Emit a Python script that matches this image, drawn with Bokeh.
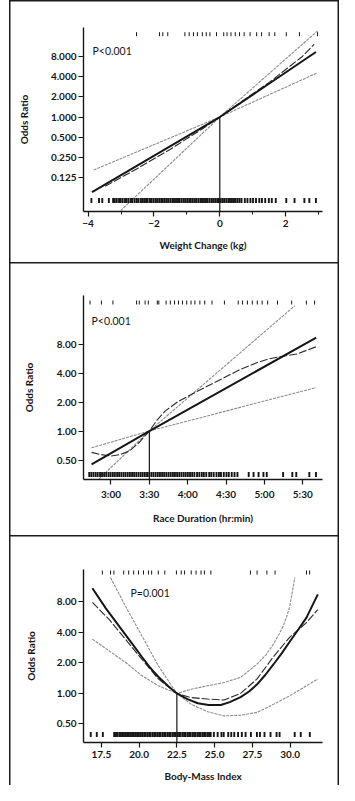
from math import pi, log2
from bokeh.plotting import figure
from bokeh.layouts import column
from bokeh.models import FixedTicker, Label, Range1d
from bokeh.embed import file_html
from bokeh.resources import INLINE

FONT = "Lato"
INK = "#161616"
CI_COLOR = "#8c8c8c"

# ---------------- Panel A: weight change (kg) ----------------
a_xticks = [-4, -2, 0, 2]
a_xminor = [-3, -1, 1, 3]
a_xlabels = ["\u22124", "\u22122", "0", "2"]
a_yticks = [0.125, 0.25, 0.5, 1, 2, 4, 8]
a_ylabels = ["0.125", "0.250", "0.500", "1.000", "2.000", "4.000", "8.000"]
a_fit_x = [-3.88, 0.0, 2.92]
a_fit_or = [0.075, 1.0, 9.4]
a_spline_x = [-3.48, -2.5, -1.5, -0.5, 0.0, 0.5, 1.5, 2.5, 2.87]
a_spline_or = [0.092, 0.17, 0.33, 0.68, 1.0, 1.49, 3.3, 8.0, 12.3]
a_ci_lo_x = [-3.10, 0.0, 2.97]
a_ci_lo_or = [0.036, 1.0, 19.5]
a_ci_hi_x = [-3.83, 0.0, 2.97]
a_ci_hi_or = [0.161, 1.0, 4.6]
a_rug_top = [-2.53, -1.83, -1.73, -1.58, -1.06, -0.93, -0.80, -0.68, -0.53, -0.41,
             -0.30, -0.10, 0.12, 0.22, 0.34, 0.47, 0.60, 0.74, 0.92, 1.12, 1.27,
             1.50, 1.67, 2.02, 2.42, 2.97]
a_rug_bottom = [-3.90, -3.67, -3.57, -3.37, -3.24, -3.19, -3.13, -3.06, -3.01, -2.95,
                -2.88, -2.83, -2.77, -2.70, -2.66, -2.59, -2.53, -2.48, -2.41, -2.36,
                -2.30, -2.24, -2.19, -2.12, -2.07, -2.01, -1.95, -1.90, -1.84, -1.78,
                -1.73, -1.67, -1.61, -1.56, -1.50, -1.44, -1.39, -1.33, -1.27, -1.22,
                -1.16, -1.10, -1.05, -0.99, -0.93, -0.88, -0.82, -0.76, -0.71, -0.65,
                -0.59, -0.54, -0.48, -0.42, -0.37, -0.31, -0.25, -0.20, -0.14, -0.08,
                -0.03, 0.03, 0.09, 0.14, 0.20, 0.26, 0.31, 0.37, 0.43, 0.48, 0.54,
                0.60, 0.66, 0.76, 0.84, 0.93, 1.01, 1.10, 1.20, 1.28, 1.38, 1.49,
                1.58, 1.70, 2.02, 2.27, 2.57, 2.72, 2.92]
a_ref = 0.0

# ---------------- Panel B: race duration (minutes) ----------------
b_xticks = [180, 210, 240, 270, 300, 330]
b_xlabels = ["3:00", "3:30", "4:00", "4:30", "5:00", "5:30"]
b_yticks = [0.5, 1, 2, 4, 8]
b_ylabels = ["0.50", "1.00", "2.00", "4.00", "8.00"]
b_fit_x = [164.8, 210.0, 340.5]
b_fit_or = [0.45, 1.0, 9.3]
b_spline_x = [164.8, 172.0, 180.2, 187.0, 194.4, 202.0, 210.0, 216.0, 222.5, 232.0,
              243.1, 256.0, 268.7, 281.0, 294.4, 303.0, 312.3, 325.2, 340.5]
b_spline_or = [0.60, 0.57, 0.55, 0.57, 0.62, 0.76, 1.0, 1.30, 1.62, 2.0,
               2.41, 2.95, 3.59, 4.35, 5.14, 5.6, 5.9, 6.3, 7.5]
b_ci_hi_x = [166.2, 210.0, 323.8]
b_ci_hi_or = [0.28, 1.0, 20.0]
b_ci_lo_x = [164.8, 210.0, 340.5]
b_ci_lo_or = [0.67, 1.0, 2.83]
b_rug_top = [163.6, 172.5, 181.5, 200.0, 202.1, 206.7, 209.2, 216.2, 217.4, 223.1,
             226.4, 229.7, 232.8, 235.9, 239.2, 242.6, 245.6, 249.5, 253.3, 259.0,
             268.7, 279.5, 282.8, 286.7, 290.5, 294.4, 298.2, 302.5, 310.2, 321.3,
             332.8, 339.2]
b_rug_bottom = [163.0, 164.6, 166.3, 168.0, 169.6, 171.4, 173.0, 174.7, 176.3, 178.1,
                179.7, 181.4, 183.0, 184.8, 186.4, 188.1, 189.8, 191.4, 193.1, 194.8,
                196.5, 198.1, 199.8, 201.5, 203.2, 204.8, 206.5, 208.2, 209.9, 211.6,
                213.2, 214.9, 216.6, 218.3, 220.0, 221.6, 223.3, 225.0, 226.7, 228.4,
                230.0, 231.7, 233.4, 235.1, 236.8, 238.4, 240.1, 241.8, 243.5, 245.2,
                247.3, 249.1, 251.0, 252.6, 254.5, 256.8, 258.4, 260.3, 262.5, 264.4,
                266.0, 268.2, 270.3, 272.1, 274.4, 276.6, 278.9, 287.7, 291.5, 295.4,
                299.2, 301.8, 314.6, 321.8, 324.9, 335.1, 340.3]
b_ref = 210.0

# ---------------- Panel C: body-mass index ----------------
c_xticks = [17.5, 20.0, 22.5, 25.0, 27.5, 30.0]
c_xlabels = ["17.5", "20.0", "22.5", "25.0", "27.5", "30.0"]
c_yticks = [0.5, 1, 2, 4, 8]
c_ylabels = ["0.50", "1.00", "2.00", "4.00", "8.00"]
c_fit_x = [16.91, 17.8, 18.76, 19.5, 20.18, 20.7, 21.27, 21.9, 22.5, 23.2, 23.89, 24.6,
           25.41, 26.0, 26.72, 27.3, 27.81, 28.35, 28.89, 29.45, 29.98, 30.55, 31.08, 31.83]
c_fit_or = [10.9, 6.9, 4.44, 3.15, 2.30, 1.82, 1.46, 1.19, 1.0, 0.88, 0.80, 0.77,
            0.77, 0.82, 0.92, 1.05, 1.23, 1.52, 1.93, 2.5, 3.25, 4.3, 5.6, 9.5]
c_spline_x = [16.91, 18.0, 19.09, 20.18, 21.27, 22.5, 23.45, 24.54, 25.62, 26.72, 27.81, 28.89, 29.98, 31.08, 31.83]
c_spline_or = [7.9, 5.4, 3.43, 2.18, 1.39, 1.0, 0.91, 0.88, 0.86, 1.0, 1.39, 2.3, 3.6, 5.0, 6.7]
c_ci_hi_x = [18.11, 19.09, 20.18, 21.27, 22.5, 23.45, 24.54, 25.62, 26.72, 27.81, 28.4,
             28.89, 29.25, 29.55, 29.8, 29.98, 30.31]
c_ci_hi_or = [13.9, 7.3, 3.71, 1.88, 1.0, 1.10, 1.19, 1.28, 1.44, 1.95, 2.4,
              3.07, 3.8, 4.66, 5.9, 7.3, 13.9]
c_ci_lo_x = [16.91, 18.0, 19.09, 20.18, 21.27, 22.5, 23.45, 24.54, 25.62, 26.72, 27.81, 28.89, 29.98, 31.08, 31.83]
c_ci_lo_or = [3.43, 2.64, 2.03, 1.50, 1.19, 1.0, 0.78, 0.66, 0.60, 0.61, 0.65, 0.78, 0.95, 1.19, 1.39]
c_rug_top = [17.57, 18.11, 18.33, 18.98, 19.31, 19.64, 19.96, 20.29, 20.62, 20.83,
             21.27, 21.70, 22.47, 22.79, 23.01, 23.45, 23.77, 24.10, 24.32, 24.75,
             27.37, 27.81, 28.46, 29.00, 31.08, 31.29]
c_rug_bottom = [16.8, 17.2, 17.6, 18.35, 18.47, 18.56, 18.69, 18.80, 18.91, 19.00,
                19.13, 19.24, 19.33, 19.46, 19.57, 19.66, 19.79, 19.90, 19.99, 20.12,
                20.23, 20.34, 20.44, 20.56, 20.67, 20.76, 20.89, 21.00, 21.10, 21.22,
                21.33, 21.42, 21.55, 21.66, 21.75, 21.88, 21.99, 22.08, 22.21, 22.32,
                22.41, 22.54, 22.65, 22.74, 22.87, 22.98, 23.07, 23.20, 23.31, 23.40,
                23.53, 23.64, 23.73, 23.86, 23.97, 24.06, 24.19, 24.30, 24.39, 24.52,
                24.63, 24.74, 24.95, 25.2, 25.45, 25.6, 25.9, 26.1, 26.3, 26.55, 26.8,
                27.05, 27.4, 27.8, 28.0, 28.3, 28.7, 29.1, 29.3, 30.3, 30.7, 31.3]
c_ref = 22.5


def make_panel(letter, letter_xy, xr, yr, frame, borders, xticks, xlabels, xminor,
               yticks, ylabels, xlabel, ptext, pxy, fit, spline, ci_a, ci_b, rug_top,
               rug_bottom, rug_off, ref, ylab_standoff):
    left, right, top, bottom = borders
    fw, fh = frame
    p = figure(width=left + fw + right, height=top + fh + bottom,
               x_range=Range1d(*xr), y_range=Range1d(*yr), y_axis_type="log",
               output_backend="svg", toolbar_location=None,
               min_border_left=left, min_border_right=right,
               min_border_top=top, min_border_bottom=bottom)
    p.outline_line_color = None
    p.border_fill_color = None
    p.background_fill_color = None
    p.xgrid.grid_line_color = None
    p.ygrid.grid_line_color = None
    p.styles = {"box-shadow": "inset 1.5px 1.5px 0 0 #1c1c1c, inset -1.5px 0 0 0 #1c1c1c"}

    for ax in (p.xaxis[0], p.yaxis[0]):
        ax.axis_line_color = INK
        ax.axis_line_width = 1.4
        ax.major_tick_line_color = INK
        ax.major_tick_line_width = 1.2
        ax.major_tick_out = 5
        ax.major_tick_in = 0
        ax.minor_tick_line_color = INK
        ax.minor_tick_out = 3
        ax.minor_tick_in = 0
        ax.major_label_text_font = FONT
        ax.major_label_text_font_size = "10px"
        ax.major_label_text_font_style = "bold"
        ax.major_label_text_color = INK
        ax.axis_label_text_font = FONT
        ax.axis_label_text_font_size = "10px"
        ax.axis_label_text_font_style = "bold"
        ax.axis_label_text_color = INK

    p.xaxis.ticker = FixedTicker(ticks=xticks, minor_ticks=xminor)
    p.xaxis.major_label_overrides = dict(zip(xticks, xlabels))
    p.xaxis.axis_label = xlabel
    p.xaxis.major_label_standoff = 3
    p.xaxis.axis_label_standoff = 9

    p.yaxis.ticker = FixedTicker(ticks=yticks, minor_ticks=[])
    p.yaxis.major_label_overrides = dict(zip(yticks, ylabels))
    p.yaxis.axis_label = "Odds Ratio"
    p.yaxis.major_label_standoff = 2
    p.yaxis.axis_label_standoff = ylab_standoff

    # confidence limits
    p.line(ci_a[0], ci_a[1], line_color=CI_COLOR, line_width=1.1, line_dash="3 1")
    p.line(ci_b[0], ci_b[1], line_color=CI_COLOR, line_width=1.1, line_dash="3 1")
    # spline and fitted curve
    p.line(spline[0], spline[1], line_color="#2a2a2a", line_width=1.1, line_dash="8 2")
    p.line(fit[0], fit[1], line_color=INK, line_width=2.0)

    # reference line
    p.segment(x0=[ref], y0=[1.0], x1=[ref], y1=[yr[0]], line_color=INK, line_width=1.2)

    # rugs
    ppd = fh / log2(yr[1] / yr[0])
    top_level = yr[1] / 2 ** (rug_off[0] / ppd)
    bot_level = yr[0] * 2 ** (rug_off[1] / ppd)
    p.scatter(rug_top, [top_level] * len(rug_top), marker="dash", angle=pi / 2,
              size=4, line_color=INK, line_width=1.0)
    p.scatter(rug_bottom, [bot_level] * len(rug_bottom), marker="dash", angle=pi / 2,
              size=5, line_color=INK, line_width=1.9)

    p.add_layout(Label(x=pxy[0], y=pxy[1], x_units="screen", y_units="screen",
                       text=ptext, text_font=FONT, text_font_size="10.5px",
                       text_color=INK, text_baseline="middle"))
    p.add_layout(Label(x=letter_xy[0], y=letter_xy[1], x_units="screen", y_units="screen",
                       text=letter, text_font=FONT, text_font_size="12px",
                       text_font_style="bold", text_color=INK, text_baseline="middle"))
    return p


pA = make_panel("A", (-66, 201), (-4.14, 3.12), (0.0385, 21.9), (242, 184), (71, 17, 27, 51),
                a_xticks, a_xlabels, a_xminor, a_yticks, a_ylabels, "Weight Change (kg)",
                "P<0.001", (9, 161), (a_fit_x, a_fit_or), (a_spline_x, a_spline_or),
                (a_ci_lo_x, a_ci_lo_or), (a_ci_hi_x, a_ci_hi_or), a_rug_top, a_rug_bottom,
                (6.7, 11), a_ref, 18)
pB = make_panel("B", (-63, 199), (158.5, 345.4), (0.314, 25.5), (243, 184), (73, 14, 33, 56),
                b_xticks, b_xlabels, [], b_yticks, b_ylabels, "Race Duration (hr:min)",
                "P<0.001", (8, 159), (b_fit_x, b_fit_or), (b_spline_x, b_spline_or),
                (b_ci_hi_x, b_ci_hi_or), (b_ci_lo_x, b_ci_lo_or), b_rug_top, b_rug_bottom,
                (7, 5), b_ref, 19)
pC = make_panel("C", (-63, 189), (16.32, 32.14), (0.328, 16.7), (242, 173), (74, 14, 34, 43),
                c_xticks, c_xlabels, [], c_yticks, c_ylabels, "Body-Mass Index",
                "P=0.001", (47, 150), (c_fit_x, c_fit_or), (c_spline_x, c_spline_or),
                (c_ci_hi_x, c_ci_hi_or), (c_ci_lo_x, c_ci_lo_or), c_rug_top, c_rug_bottom,
                (3, 8), c_ref, 17)

layout = column(pA, pB, pC, spacing=0, margin=(0, 0, 0, 9))
open("out.html", "w").write(file_html(layout, INLINE))
